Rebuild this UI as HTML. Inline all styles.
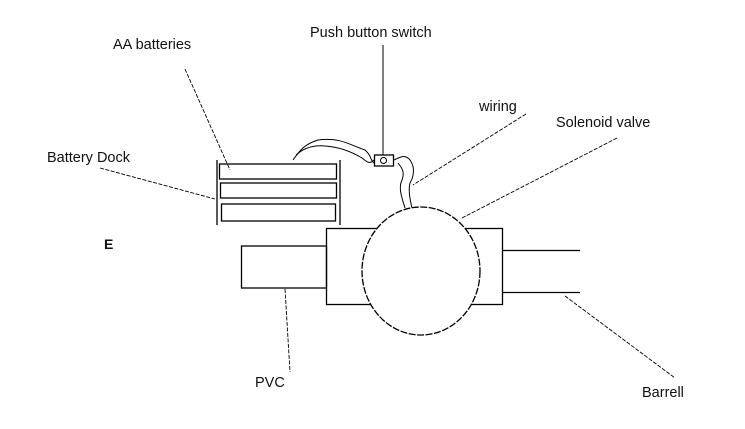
<!DOCTYPE html>
<html><head><meta charset="utf-8"><style>
html,body{margin:0;padding:0;background:#fff;}
svg{display:block;}
text{font-family:"Liberation Sans",Arial,sans-serif;font-size:14.5px;fill:#111;}
</style></head><body>
<svg width="745" height="429" viewBox="0 0 745 429" xmlns="http://www.w3.org/2000/svg">
<rect width="745" height="429" fill="#fff"/>
<g stroke="#000" stroke-width="1.3" fill="none">
<!-- battery dock -->
<line x1="217" y1="160" x2="217" y2="225"/>
<line x1="340" y1="160" x2="340" y2="225"/>
<rect x="219.5" y="164" width="117" height="15"/>
<rect x="220.5" y="183" width="116" height="15"/>
<rect x="221.5" y="204" width="114" height="17"/>
<!-- switch -->
<line x1="383" y1="45" x2="383" y2="155" stroke-width="1"/>
<rect x="374.5" y="155" width="19" height="11"/>
<circle cx="383.5" cy="160.5" r="3" stroke-width="1"/>
<!-- wire from battery to switch -->
<path d="M293,160 C300,150 305,144 318,140 C340,137 350,145 365,150 C372,156 370,160 374,163" stroke-width="1"/>
<path d="M296,155 C305,147 315,145 325,146 C340,147 352,152 362,158 C368,163 370,164 374,160" stroke-width="1"/>
<!-- wire from switch to valve -->
<path d="M394,160 C400,157 405,154 410,160 C416,168 413,178 410,183 C408,190 410,200 412,208" stroke-width="1"/>
<path d="M398,163 C402,168 405,172 402,180 C398,188 402,198 405,208" stroke-width="1"/>
<!-- pipes -->
<rect x="241.5" y="246" width="85" height="42"/>
<rect x="326.5" y="228.5" width="176" height="76"/>
<line x1="503" y1="250.5" x2="580" y2="250.5"/>
<line x1="503" y1="292.5" x2="580" y2="292.5"/>
<!-- valve -->
<ellipse cx="421" cy="271" rx="59" ry="64" fill="#fff" stroke-dasharray="7,1.5"/>
</g>
<!-- leader lines -->
<g stroke="#000" stroke-width="0.9" fill="none" stroke-dasharray="4,1.5">
<line x1="185" y1="69" x2="230" y2="170"/>
<line x1="100" y1="168" x2="215" y2="199"/>
<line x1="526" y1="114" x2="413" y2="185"/>
<line x1="617" y1="138" x2="462" y2="218"/>
<line x1="565" y1="296" x2="675" y2="378"/>
<line x1="285" y1="289" x2="290" y2="372"/>
</g>
<text x="310" y="37">Push button switch</text>
<text x="113" y="49">AA batteries</text>
<text x="47" y="162">Battery Dock</text>
<text x="479" y="111">wiring</text>
<text x="556" y="127">Solenoid valve</text>
<text x="255" y="387">PVC</text>
<text x="642" y="397">Barrell</text>
<text x="104" y="249" style="font-size:14px;font-weight:bold">E</text>
</svg>
</body></html>
